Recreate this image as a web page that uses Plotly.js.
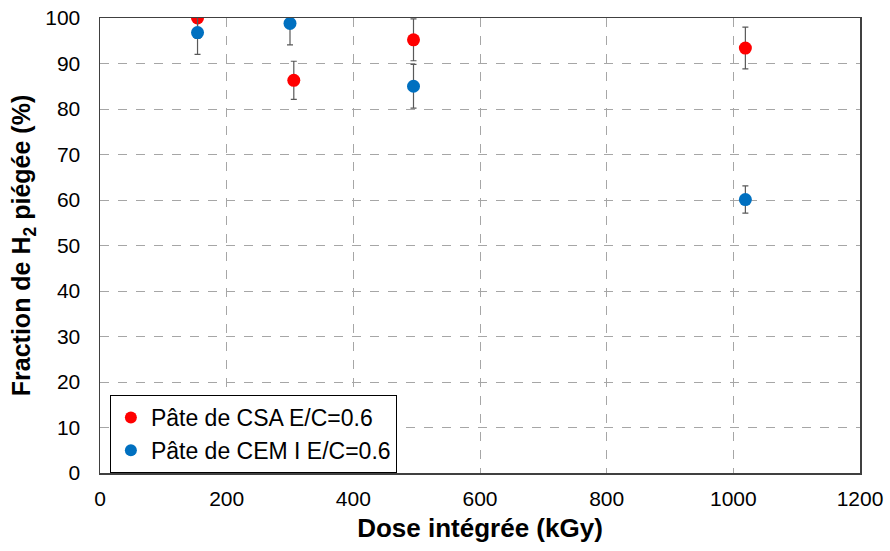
<!DOCTYPE html>
<html><head><meta charset="utf-8">
<script src="https://cdn.plot.ly/plotly-3.0.1.min.js"></script>
<style>html,body{margin:0;padding:0;background:#fff}</style>
</head><body><div id="chart" style="width:890px;height:551px"></div>
<script>
const csaDose = [154, 306, 495, 1019];
const csaFrac = [100, 86.3, 95.2, 93.4];
const csaErr = [4.5, 4.2, 4.6, 4.6];
const cemDose = [154, 300, 495, 1019];
const cemFrac = [96.8, 98.8, 85.0, 60.1];
const cemErr = [4.8, 4.7, 4.8, 3.0];
const seriesNames = ['Pâte de CSA E/C=0.6', 'Pâte de CEM I E/C=0.6'];

const errStyle = {color: '#595959', thickness: 1.2, width: 3};
const traces = [
  {x: csaDose, y: csaFrac, name: seriesNames[0], mode: 'markers', type: 'scatter',
   marker: {color: '#ff0000', size: 13}, error_y: Object.assign({type: 'data', array: csaErr, visible: true}, errStyle), cliponaxis: true},
  {x: cemDose, y: cemFrac, name: seriesNames[1], mode: 'markers', type: 'scatter',
   marker: {color: '#0070c0', size: 13}, error_y: Object.assign({type: 'data', array: cemErr, visible: true}, errStyle), cliponaxis: true}
];
const font = {family: 'Liberation Sans, Arial, sans-serif', color: '#000'};
const layout = {
  width: 890, height: 551,
  margin: {l: 100, r: 30, t: 18, b: 78},
  paper_bgcolor: '#fff', plot_bgcolor: '#fff',
  font: font,
  showlegend: true,
  legend: {x: 0.013, y: 0.0, xanchor: 'left', yanchor: 'bottom', bordercolor: '#000', borderwidth: 1,
    bgcolor: '#fff', font: {size: 23, family: font.family, color: '#000'}, itemsizing: 'constant', tracegroupgap: 0,
    itemwidth: 30},
  xaxis: {range: [0, 1200], dtick: 200, tick0: 0, showgrid: true, gridcolor: '#a6a6a6', griddash: 'dash', gridwidth: 1,
    zeroline: false, showline: true, linecolor: '#404040', linewidth: 1.5, mirror: true, ticks: '',
    ticklabelstandoff: 6,
    tickfont: {size: 21, family: font.family, color: '#000'},
    title: {text: '<b>Dose intégrée (kGy)</b>', font: {size: 26, family: font.family, color: '#000'}, standoff: 10}},
  yaxis: {range: [0, 100], dtick: 10, tick0: 0, showgrid: true, gridcolor: '#a6a6a6', griddash: 'dash', gridwidth: 1,
    zeroline: false, showline: true, linecolor: '#404040', linewidth: 1.5, mirror: true, ticks: '',
    ticklabelstandoff: 14,
    tickfont: {size: 21, family: font.family, color: '#000'},
    title: {text: '<b>Fraction de H<sub>2</sub> piégée (%)</b>', font: {size: 25, family: font.family, color: '#000'}, standoff: 7}}
};
Plotly.newPlot('chart', traces, layout, {displayModeBar: false, staticPlot: true});
</script></body></html>
